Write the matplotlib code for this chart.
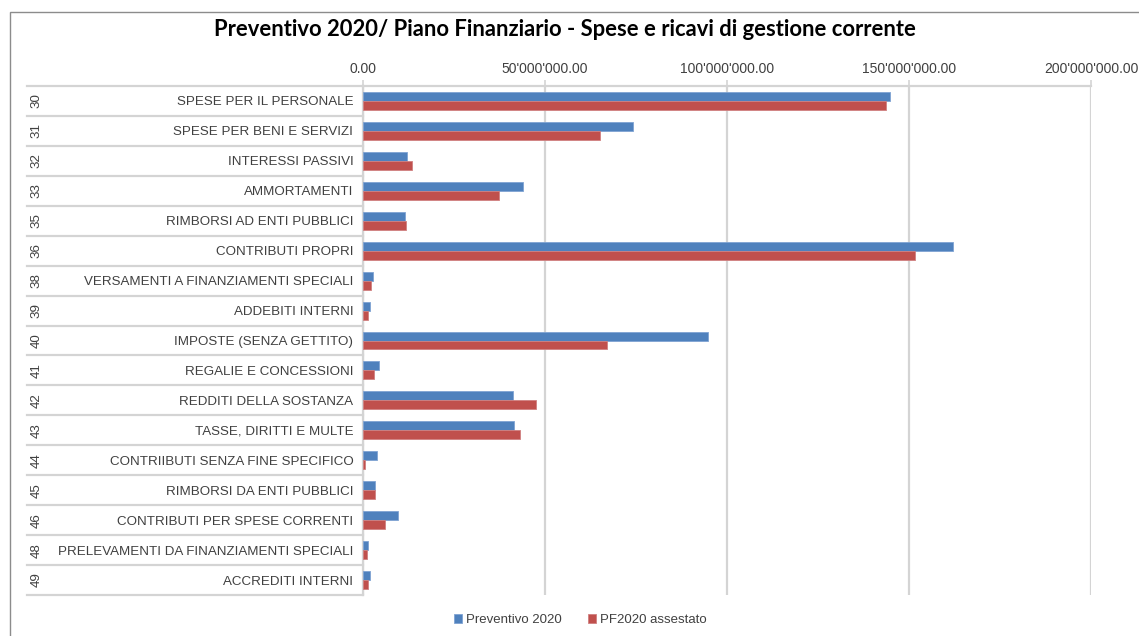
import matplotlib
matplotlib.use("Agg")
import matplotlib.pyplot as plt
import matplotlib.patches as mpatches
from matplotlib.transforms import blended_transform_factory
from matplotlib.ticker import FuncFormatter, FixedLocator
import numpy as np

plt.rcParams["font.family"] = ["Liberation Sans", "DejaVu Sans"]

# dati (valori in milioni)
codici = ["30", "31", "32", "33", "35", "36", "38", "39", "40", "41", "42", "43", "44", "45", "46", "48", "49"]
voci = ["SPESE PER IL PERSONALE", "SPESE PER BENI E SERVIZI", "INTERESSI PASSIVI", "AMMORTAMENTI",
        "RIMBORSI AD ENTI PUBBLICI", "CONTRIBUTI PROPRI", "VERSAMENTI A FINANZIAMENTI SPECIALI",
        "ADDEBITI INTERNI", "IMPOSTE (SENZA GETTITO)", "REGALIE E CONCESSIONI", "REDDITI DELLA SOSTANZA",
        "TASSE, DIRITTI E MULTE", "CONTRIIBUTI SENZA FINE SPECIFICO", "RIMBORSI DA ENTI PUBBLICI",
        "CONTRIBUTI PER SPESE CORRENTI", "PRELEVAMENTI DA FINANZIAMENTI SPECIALI", "ACCREDITI INTERNI"]
preventivo_2020 = [144.9, 74.2, 12.0, 43.9, 11.5, 162.1, 2.7, 1.8, 94.7, 4.4, 41.3, 41.6, 3.8, 3.2, 9.5, 1.4, 1.8]
pf2020_assestato = [143.8, 65.2, 13.4, 37.5, 11.8, 151.7, 2.1, 1.4, 67.0, 2.9, 47.6, 43.2, 0.5, 3.2, 6.1, 1.2, 1.4]
tick_valori = [0, 50, 100, 150, 200]

W, H = 1139, 636
fig = plt.figure(figsize=(W / 100, H / 100), dpi=100)
fig.patch.set_facecolor("white")

# bordo esterno del grafico
fig.add_artist(mpatches.Rectangle((10 / W, -0.1), 1.2, 1.1 - 12 / H, transform=fig.transFigure,
                                  fill=False, edgecolor="#8c8c8c", linewidth=1.0))

x0, x1, y0, y1 = 363, 1091, 86, 595
ax = fig.add_axes([x0 / W, 1 - y1 / H, (x1 - x0) / W, (y1 - y0) / H])

n = len(voci)
pos = np.arange(n) + 0.5
h = 0.3
ax.barh(pos - h / 2, [v * 1e6 for v in preventivo_2020], height=h, color="#4F81BD",
        edgecolor="#7fa3d3", linewidth=0.6, label="Preventivo 2020", zorder=3)
ax.barh(pos + h / 2, [v * 1e6 for v in pf2020_assestato], height=h, color="#C0504D",
        edgecolor="#d08080", linewidth=0.6, label="PF2020 assestato", zorder=3)

ax.set_xlim(0, 200e6)
ax.set_ylim(n, 0)

grid_c = "#d4d4d4"
ax.xaxis.tick_top()
ax.set_xticks([v * 1e6 for v in tick_valori])
ax.xaxis.set_major_formatter(FuncFormatter(lambda v, p: "{:,.2f}".format(v).replace(",", "'")))
ax.tick_params(axis="x", colors=grid_c, labelcolor="#404040", labelsize=10, length=4, width=1.2, pad=3)
ax.grid(axis="x", color=grid_c, linewidth=1.6, zorder=0)

ax.set_yticks(pos)
ax.set_yticklabels(voci)
ax.yaxis.set_minor_locator(FixedLocator(np.arange(n + 1)))
ax.tick_params(axis="y", which="major", length=0, pad=7, labelsize=9.6, labelcolor="#404040")
ax.tick_params(axis="y", which="minor", length=4, color=grid_c, width=1.2)

for s in ["top", "left"]:
    ax.spines[s].set_color(grid_c)
    ax.spines[s].set_linewidth(1.6)
ax.spines["right"].set_visible(False)
ax.spines["bottom"].set_visible(False)

# separatori e codici della categoria
tr = blended_transform_factory(ax.transAxes, ax.transData)
xs = (27 - x0) / (x1 - x0)
for b in range(n + 1):
    ax.plot([xs, 0], [b, b], transform=tr, color=grid_c, linewidth=1.6, clip_on=False, zorder=1)
xc = (37 - x0) / (x1 - x0)
for i, c in enumerate(codici):
    ax.text(xc, pos[i], c, transform=tr, rotation=90, ha="center", va="center",
            fontsize=9.6, color="#404040")

fig.text(565 / W, 1 - 30 / H, "Preventivo 2020/ Piano Finanziario - Spese e ricavi di gestione corrente",
         ha="center", va="center", fontsize=15.8, fontweight="bold", family=["Lato", "DejaVu Sans"])

ax.legend(loc="center", bbox_to_anchor=(580 / W, 1 - 620 / H), bbox_transform=fig.transFigure,
          ncol=2, frameon=False, fontsize=9.5, handlelength=0.6, handleheight=0.6,
          handletextpad=0.3, columnspacing=2.0, labelcolor="#404040")

fig.savefig("out.png", dpi=100)
